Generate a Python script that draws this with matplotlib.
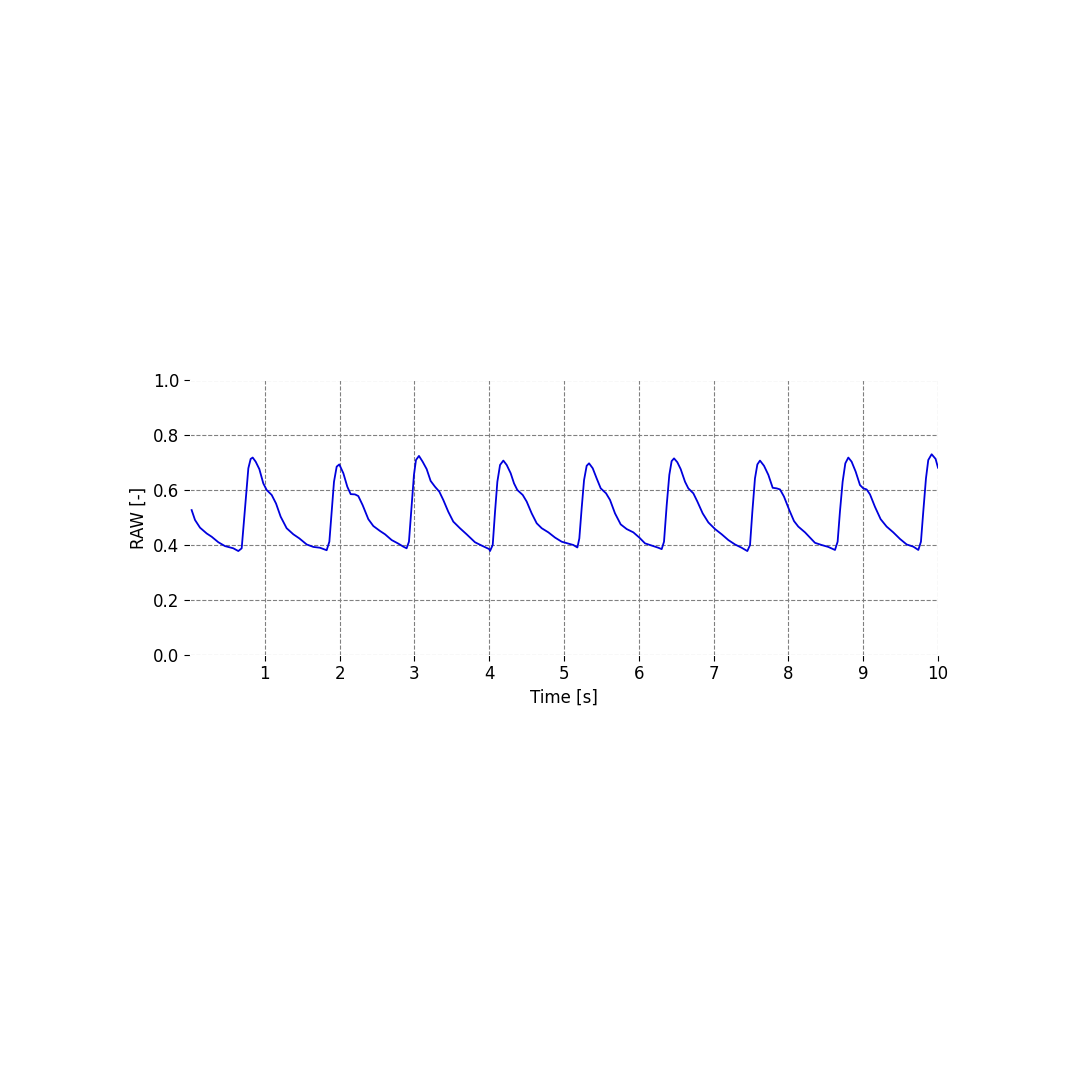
import matplotlib
matplotlib.use("Agg")
import matplotlib.pyplot as plt

# Time [s] and RAW values
time_s = [
    0.022, 0.067, 0.134, 0.223, 0.29, 0.379, 0.468, 0.579, 0.646, 0.691, 0.713, 0.749, 0.78, 0.811, 0.838, 0.878, 0.927, 0.98,
    1.025, 1.092, 1.15, 1.212, 1.292, 1.381, 1.462, 1.56, 1.649, 1.738, 1.827, 1.863, 1.894, 1.925, 1.961, 1.996,
    2.05, 2.103, 2.148, 2.206, 2.25, 2.308, 2.384, 2.451, 2.54, 2.607, 2.696, 2.785, 2.852, 2.896, 2.927, 2.963, 2.994,
    3.021, 3.061, 3.11, 3.164, 3.217, 3.275, 3.333, 3.386, 3.453, 3.52, 3.609, 3.698, 3.81, 3.899, 4.001,
    4.011, 4.047, 4.078, 4.109, 4.145, 4.189, 4.234, 4.287, 4.332, 4.376, 4.448, 4.501, 4.568, 4.635, 4.702, 4.791, 4.88, 4.969,
    5.058, 5.125, 5.179, 5.205, 5.236, 5.268, 5.303, 5.335, 5.384, 5.437, 5.491, 5.562, 5.615, 5.682, 5.758, 5.838, 5.927, 6.007,
    6.083, 6.172, 6.261, 6.306, 6.337, 6.373, 6.408, 6.439, 6.471, 6.515, 6.56, 6.618, 6.662, 6.729, 6.783, 6.854, 6.93,
    7.019, 7.108, 7.197, 7.286, 7.375, 7.451, 7.487, 7.518, 7.553, 7.585, 7.62, 7.674, 7.732, 7.79, 7.843, 7.888, 7.941,
    8.012, 8.075, 8.132, 8.222, 8.289, 8.355, 8.444, 8.533, 8.623, 8.658, 8.689, 8.725, 8.761, 8.801, 8.845, 8.899, 8.957,
    9.001, 9.046, 9.091, 9.157, 9.233, 9.313, 9.402, 9.492, 9.581, 9.67, 9.737, 9.772, 9.803, 9.839, 9.87, 9.915, 9.968, 10.0,
]
raw_value = [
    0.527, 0.491, 0.463, 0.442, 0.430, 0.410, 0.396, 0.388, 0.378, 0.388, 0.461, 0.582, 0.679, 0.713, 0.718, 0.703, 0.676, 0.624,
    0.600, 0.582, 0.551, 0.503, 0.461, 0.439, 0.424, 0.402, 0.393, 0.390, 0.381, 0.412, 0.521, 0.630, 0.685, 0.693,
    0.661, 0.612, 0.585, 0.584, 0.578, 0.545, 0.494, 0.469, 0.451, 0.439, 0.418, 0.405, 0.394, 0.388, 0.412, 0.545, 0.655,
    0.709, 0.724, 0.703, 0.676, 0.633, 0.612, 0.594, 0.564, 0.521, 0.485, 0.461, 0.439, 0.410, 0.398, 0.385,
    0.378, 0.400, 0.521, 0.630, 0.691, 0.707, 0.691, 0.661, 0.624, 0.600, 0.582, 0.558, 0.515, 0.479, 0.461, 0.446, 0.427, 0.412,
    0.405, 0.400, 0.391, 0.424, 0.533, 0.636, 0.688, 0.697, 0.679, 0.642, 0.606, 0.588, 0.564, 0.515, 0.475, 0.458, 0.446, 0.427,
    0.406, 0.398, 0.390, 0.385, 0.412, 0.545, 0.655, 0.705, 0.715, 0.701, 0.676, 0.630, 0.606, 0.588, 0.558, 0.515, 0.482,
    0.458, 0.439, 0.418, 0.402, 0.390, 0.378, 0.400, 0.521, 0.642, 0.693, 0.707, 0.688, 0.655, 0.608, 0.606, 0.602, 0.576,
    0.527, 0.487, 0.467, 0.446, 0.427, 0.408, 0.400, 0.393, 0.382, 0.412, 0.521, 0.630, 0.697, 0.718, 0.703, 0.667, 0.618,
    0.606, 0.602, 0.584, 0.539, 0.494, 0.467, 0.446, 0.422, 0.402, 0.394, 0.382, 0.412, 0.521, 0.642, 0.709, 0.730, 0.713, 0.681,
]
x_ticks = [1, 2, 3, 4, 5, 6, 7, 8, 9, 10]
y_ticks = [0.0, 0.2, 0.4, 0.6, 0.8, 1.0]

fig = plt.figure(figsize=(10.8, 10.8), dpi=100)
ax = fig.add_axes([190 / 1080, 1 - 655 / 1080, 748 / 1080, 275 / 1080])
ax.plot(time_s, raw_value, color="#0000dd", lw=1.3, zorder=3,
        solid_joinstyle="round")
ax.set_xlim(0, 10)
ax.set_ylim(0, 1)
ax.set_xticks(x_ticks)
ax.set_yticks(y_ticks)
ax.set_yticklabels([f"{v:.1f}" for v in y_ticks])
ax.grid(True, linestyle="--", color="gray", lw=0.8)
for s in ax.spines.values():
    s.set_color("white")
    s.set_zorder(2.5)
ax.tick_params(labelsize=12, length=4, color="black")
ax.set_xlabel("Time [s]", fontsize=12)
ax.set_ylabel("RAW [-]", fontsize=12)
fig.savefig("out.png", dpi=100, facecolor="white")
